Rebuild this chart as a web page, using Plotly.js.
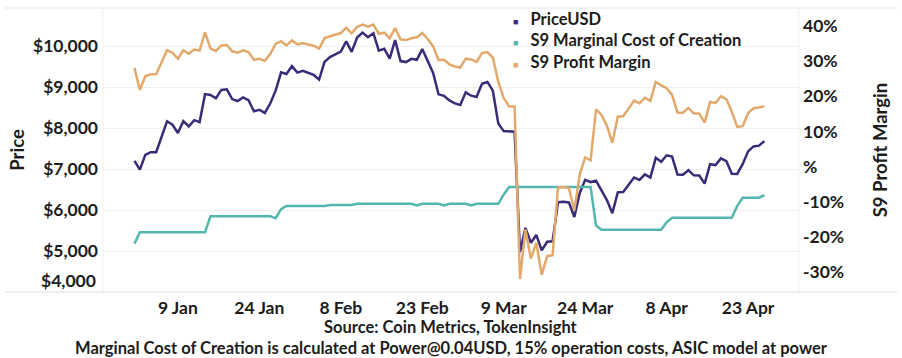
<!DOCTYPE html>
<html>
<head>
<meta charset="utf-8">
<script src="https://cdn.plot.ly/plotly-3.0.1.min.js"></script>
<style>html,body{margin:0;padding:0;background:#fff;}#chart{width:902px;height:358px;}</style>
</head>
<body>
<div id="chart"></div>
<script>
// ---- data (daily, 2020-01-01 .. 2020-04-26) ----
const startDate = '2020-01-01';
const dayCount = 117;

const priceUSD = [
  7200, 6985, 7345, 7411, 7411, 7769, 8164, 8080, 7879, 8167, 8038, 8192, 8144, 8828, 8807, 8724,
  8929, 8943, 8706, 8658, 8746, 8681, 8407, 8445, 8368, 8597, 8910, 9359, 9317, 9509, 9351,
  9393, 9344, 9294, 9181, 9613, 9730, 9796, 9865, 10117, 9857, 10208, 10326, 10214, 10312, 9889,
  9934, 9690, 10142, 9633, 9608, 9686, 9663, 9925, 9650, 9342, 8821, 8784, 8672, 8600,
  8562, 8870, 8788, 8755, 9079, 9123, 8910, 8108, 7924, 7910, 7911, 4971, 5564, 5200, 5392, 5014,
  5226, 5238, 6191, 6199, 6185, 5830, 6416, 6735, 6681, 6716, 6470, 6242, 5922, 6430, 6439,
  6607, 6794, 6733, 6868, 6791, 7272, 7176, 7334, 7302, 6865, 6859, 6971, 6845, 6842, 6642, 7117,
  7096, 7258, 7189, 6882, 6880, 7117, 7430, 7551, 7570, 7680
];

const marginalCost = [
  5180, 5460, 5460, 5460, 5460, 5460, 5460, 5460, 5460, 5460, 5460, 5460, 5460, 5460,
  5850, 5850, 5850, 5850, 5850, 5850, 5850, 5850, 5850, 5850, 5850, 5850, 5800, 6020,
  6100, 6100, 6100, 6100, 6100, 6100, 6100, 6100, 6120, 6120, 6120, 6120, 6120,
  6150, 6150, 6150, 6150, 6150, 6150, 6150, 6150, 6150, 6150, 6150, 6110, 6150, 6150, 6150, 6150,
  6110, 6150, 6150, 6150, 6150, 6110, 6150, 6150, 6150, 6150, 6150, 6380,
  6560, 6560, 6560, 6560, 6560, 6560, 6560, 6560, 6560, 6560, 6560, 6560, 6560, 6560, 6560, 6560,
  5620, 5520, 5520, 5520, 5520, 5520, 5520, 5520, 5520, 5520, 5520, 5520, 5520, 5700,
  5810, 5810, 5810, 5810, 5810, 5810, 5810, 5810, 5810, 5810, 5810, 5810, 6100,
  6300, 6300, 6300, 6300, 6360
];

const profitMargin = [
  28.1, 21.8, 25.7, 26.3, 26.3, 29.7, 33.1, 32.4, 30.7, 33.1, 32.1, 33.3, 33.0, 38.2, 33.6, 32.9,
  34.5, 34.6, 32.8, 32.4, 33.1, 32.6, 30.4, 30.7, 30.1, 32.0, 34.9, 35.7, 34.5, 35.9, 34.8,
  35.1, 34.7, 34.4, 33.6, 36.5, 37.1, 37.5, 38.0, 39.5, 37.9, 39.8, 40.4, 39.8, 40.4, 37.8,
  38.1, 36.5, 39.4, 36.2, 36.0, 36.5, 36.8, 38.0, 36.3, 34.2, 30.3, 30.4, 29.1, 28.5,
  28.2, 30.7, 30.5, 29.8, 32.3, 32.6, 31.0, 24.1, 19.5, 17.1, 17.1, -32.0, -17.9, -26.2, -21.7, -30.8,
  -25.5, -25.2, -6.0, -5.8, -6.1, -12.5, -2.2, 2.6, 1.8, 16.3, 14.7, 11.6, 6.8, 14.2, 14.3,
  16.5, 18.8, 18.0, 19.6, 18.7, 24.1, 23.1, 22.3, 20.4, 15.4, 15.3, 16.7, 15.1, 15.1, 12.5, 18.4,
  18.1, 20.0, 19.2, 15.6, 11.3, 11.5, 15.2, 16.6, 16.8, 17.2
];

const seriesNames = ['PriceUSD', 'S9 Marginal Cost of Creation', 'S9 Profit Margin'];
const xTickDates = ['2020-01-09','2020-01-24','2020-02-08','2020-02-23','2020-03-09','2020-03-24','2020-04-08','2020-04-23'];
const xTickLabels = ['9 Jan','24 Jan','8 Feb','23 Feb','9 Mar','24 Mar','8 Apr','23 Apr'];
const priceTicks = [4000, 5000, 6000, 7000, 8000, 9000, 10000];
const priceTickLabels = ['', '$5,000', '$6,000', '$7,000', '$8,000', '$9,000', '$10,000'];
const marginTicks = [-30, -20, -10, 0, 10, 20, 30, 40];
const marginTickLabels = ['-30%', '-20%', '-10%', '%', '10%', '20%', '30%', '40%'];

// ---- build dates ----
const dates = [];
(function(){
  const d0 = new Date(startDate + 'T00:00:00Z');
  for (let i = 0; i < dayCount; i++) {
    const d = new Date(d0.getTime() + i * 86400000);
    dates.push(d.toISOString().slice(0, 10));
  }
})();

const colors = ['#3b2a78', '#52b7ae', '#e2a96c'];
const FONT = 'Lato, "Open Sans", sans-serif';
const TXT = '#1c1c1c';
const F = (s) => ({family: FONT, size: s, color: TXT, weight: 'bold'});

const traces = [
  {x: dates, y: priceUSD, type: 'scatter', mode: 'lines', name: seriesNames[0], showlegend: false,
   line: {color: colors[0], width: 2.5}, yaxis: 'y'},
  {x: dates, y: marginalCost, type: 'scatter', mode: 'lines', name: seriesNames[1], showlegend: false,
   line: {color: colors[1], width: 2.5}, yaxis: 'y'},
  {x: dates, y: profitMargin, type: 'scatter', mode: 'lines', name: seriesNames[2], showlegend: false,
   line: {color: colors[2], width: 2.5}, yaxis: 'y2'}
];

// compact legend (three rows, square swatches) drawn as one left-aligned text block
const legendText = seriesNames.map((n, i) =>
  `<span style="color:${colors[i]};font-size:9px">■</span>\u00a0\u00a0\u00a0${n}`).join('<br>');

const layout = {
  width: 902, height: 358,
  margin: {l: 103, r: 103, t: 8, b: 66, pad: 0},
  paper_bgcolor: '#ffffff', plot_bgcolor: '#ffffff',
  font: F(16),
  showlegend: false,
  xaxis: {type: 'date', range: ['2019-12-26 05:00', '2020-05-02 09:00'],
    tickmode: 'array', tickvals: xTickDates, ticktext: xTickLabels,
    showgrid: false, zeroline: false, showline: false, ticks: '',
    tickfont: F(17.5), ticklabelstandoff: 3},
  yaxis: {range: [4000, 10927], tickmode: 'array', tickvals: priceTicks, ticktext: priceTickLabels,
    showgrid: true, gridcolor: '#efefef', gridwidth: 1, zeroline: false, showline: false, ticks: '',
    tickfont: F(17.5), ticklabelstandoff: 4,
    title: {text: 'Price', font: F(18.5), standoff: 3}},
  yaxis2: {range: [-35.69, 45.13], overlaying: 'y', side: 'right', tickmode: 'array',
    tickvals: marginTicks, ticktext: marginTickLabels, showgrid: false, zeroline: false, showline: false,
    ticks: '', tickfont: F(17.5), ticklabelstandoff: 3,
    title: {text: 'S9 Profit Margin', font: F(18.5), standoff: 30}},
  shapes: [
    {type: 'line', xref: 'paper', yref: 'paper', x0: -0.141, x1: 1.141, y0: 1, y1: 1, line: {color: '#e3e3e3', width: 1}},
    {type: 'line', xref: 'paper', yref: 'paper', x0: -0.141, x1: 1.141, y0: 0, y1: 0, line: {color: '#dcdcdc', width: 1}},
    {type: 'line', xref: 'paper', yref: 'paper', x0: 0, x1: 0, y0: 0, y1: 1, line: {color: '#f0f0f0', width: 1}},
    {type: 'line', xref: 'paper', yref: 'paper', x0: 1, x1: 1, y0: 0, y1: 1, line: {color: '#f0f0f0', width: 1}}
  ],
  annotations: [
    {text: legendText, xref: 'paper', yref: 'paper', x: 0.5862, y: 0.8845, xanchor: 'left', yanchor: 'middle',
     align: 'left', showarrow: false, font: F(16.5)},
    {text: '$4,000', xref: 'paper', yref: 'paper', x: -0.007, y: 0.039, xanchor: 'right', yanchor: 'middle',
     showarrow: false, font: F(17.5)},
    {text: 'Source: Coin Metrics, TokenInsight', xref: 'paper', yref: 'paper', x: 0.5, y: -0.1215,
     xanchor: 'center', yanchor: 'middle', showarrow: false, font: F(16.5)},
    {text: 'Marginal Cost of Creation is calculated at Power@0.04USD, 15% operation costs, ASIC model at power',
     xref: 'paper', yref: 'paper', x: 0.5, y: -0.196, xanchor: 'center', yanchor: 'middle', showarrow: false,
     font: F(16.5)}
  ]
};

Plotly.newPlot('chart', traces, layout, {displayModeBar: false, staticPlot: true});
</script>
</body>
</html>
